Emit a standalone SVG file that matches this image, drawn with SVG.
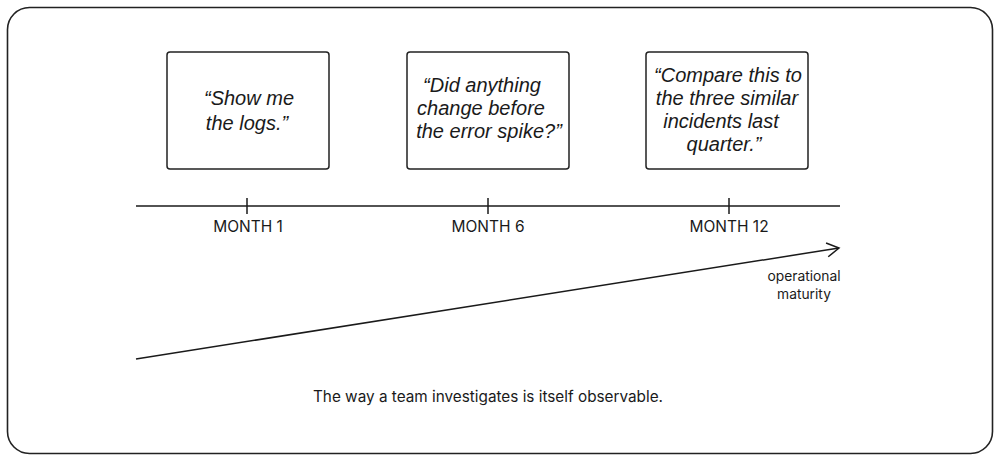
<svg xmlns="http://www.w3.org/2000/svg" width="1000" height="461" viewBox="0 0 1000 461">
<style>
.frame{fill:#fff;stroke:#222;stroke-width:1.6}
.box{fill:#fff;stroke:#222;stroke-width:1.5}
.q{font-family:"Liberation Sans",Arial,sans-serif;font-style:italic;font-size:20px;fill:#1a1a1a;text-anchor:middle}
.m{font-family:Inter,"Liberation Sans",sans-serif;font-size:15.5px;fill:#1a1a1a;text-anchor:middle}
.b{font-family:Inter,"Liberation Sans",sans-serif;font-size:15.3px;fill:#1a1a1a;text-anchor:middle}
.s{font-family:Inter,"Liberation Sans",sans-serif;font-size:13.8px;fill:#1a1a1a;text-anchor:middle}
.line{stroke:#1a1a1a;stroke-width:1.5;fill:none}
</style>
<defs>
<marker id="arr" markerWidth="16" markerHeight="16" refX="13" refY="8" orient="auto" markerUnits="userSpaceOnUse">
<path d="M1,1 L13,8 L1,15" fill="none" stroke="#1a1a1a" stroke-width="1.5"/>
</marker>
</defs>
<rect class="frame" x="7.5" y="7.5" width="985" height="446" rx="22"/>
<g id="node-month1">
<rect class="box" x="167" y="52" width="162" height="117" rx="3"/>
<text class="q" x="249" y="105">“Show me</text>
<text class="q" x="247" y="130">the logs.”</text>
</g>
<g id="node-month6">
<rect class="box" x="407" y="52" width="162" height="117" rx="3"/>
<text class="q" x="482" y="92">“Did anything</text>
<text class="q" x="481" y="115">change before</text>
<text class="q" x="489" y="138">the error spike?”</text>
</g>
<g id="node-month12">
<rect class="box" x="646" y="52" width="162" height="117" rx="3"/>
<text class="q" x="728" y="82">“Compare this to</text>
<text class="q" x="727" y="105">the three similar</text>
<text class="q" x="721" y="128">incidents last</text>
<text class="q" x="724" y="151">quarter.”</text>
</g>
<g id="connectors">
<line class="line" x1="136" y1="206" x2="840" y2="206"/>
<line class="line" x1="247" y1="198" x2="247" y2="214"/>
<line class="line" x1="488" y1="198" x2="488" y2="214"/>
<line class="line" x1="729" y1="198" x2="729" y2="214"/>
<line class="line" x1="136" y1="359" x2="839" y2="248" marker-end="url(#arr)"/>
</g>
<g id="labels">
<text class="m" x="248" y="232">MONTH 1</text>
<text class="m" x="488" y="232">MONTH 6</text>
<text class="m" x="729" y="232">MONTH 12</text>
<text class="s" x="804" y="281">operational</text>
<text class="s" x="804" y="299">maturity</text>
<text class="b" x="488" y="402">The way a team investigates is itself observable.</text>
</g>
</svg>
